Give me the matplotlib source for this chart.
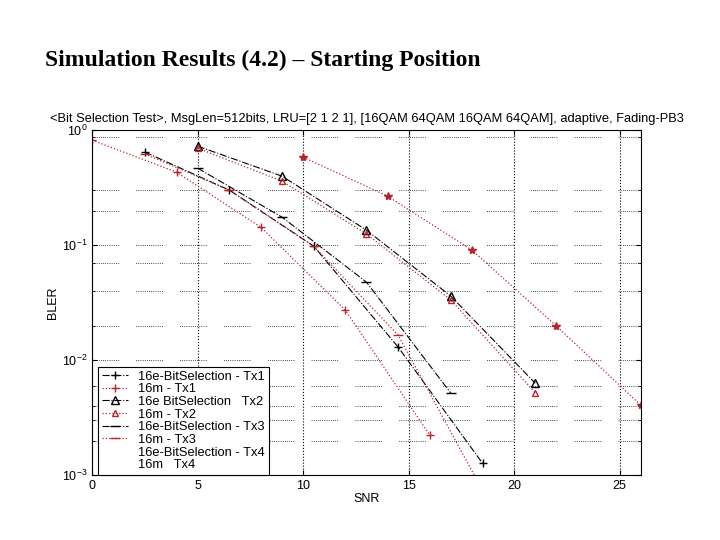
import numpy as np
import matplotlib
matplotlib.use('Agg')
import matplotlib.pyplot as plt
from matplotlib.lines import Line2D
from matplotlib.ticker import FixedLocator, NullFormatter

# Data (SNR in dB, BLER)
snr_e1 = [2.5, 6.5, 10.5, 14.5, 18.5]
bler_e1 = [0.644, 0.301, 0.098, 0.013, 0.00127]

snr_m1 = [0, 4, 8, 12, 16]
bler_m1 = [0.818, 0.431, 0.143, 0.0272, 0.00223]

snr_e2 = [5, 9, 13, 17, 21]
bler_e2 = [0.726, 0.398, 0.135, 0.036, 0.0063]

snr_m2 = [5, 9, 13, 17, 21]
bler_m2 = [0.697, 0.360, 0.125, 0.0333, 0.0052]

snr_e3 = [5, 9, 13, 17]
bler_e3 = [0.467, 0.175, 0.0477, 0.00516]

snr_m3 = [2.5, 6.5, 10.5, 14.5, 18.5]
bler_m3 = [0.62, 0.301, 0.098, 0.0165, 0.00074]

snr_m4 = [10, 14, 18, 22, 26]
bler_m4 = [0.582, 0.267, 0.0905, 0.0198, 0.00406]

legend_labels = ['16e-BitSelection - Tx1', '16m - Tx1', '16e BitSelection   Tx2',
                 '16m - Tx2', '16e-BitSelection - Tx3', '16m - Tx3',
                 '16e-BitSelection - Tx4', '16m   Tx4']

# minor grid rows that survive in the scanned slide
minor_rows = [0.87, 0.3, 0.2, 0.07, 0.04, 0.02, 0.006, 0.004, 0.003, 0.002]

plt.rcParams['font.family'] = ['Liberation Sans', 'DejaVu Sans']

fig = plt.figure(figsize=(7.2, 5.4), dpi=100)
fig.text(0.062, 0.889, 'Simulation Results (4.2) \u2013 Starting Position',
         fontsize=17, fontweight='bold', family='Liberation Serif', va='center')

ax = fig.add_axes([0.128, 0.120, 0.762, 0.639])
red = '#b8262c'
ax.semilogy(snr_e1, bler_e1, '-.', color='k', lw=0.8, marker='+', ms=6, label=legend_labels[0])
ax.semilogy(snr_m1, bler_m1, ':', color=red, lw=0.9, marker='+', ms=6, label=legend_labels[1])
ax.semilogy(snr_e2, bler_e2, '-.', color='k', lw=0.8, marker='^', mfc='none', ms=6, label=legend_labels[2])
ax.semilogy(snr_m2, bler_m2, ':', color=red, lw=0.9, marker='^', mfc='none', ms=5, label=legend_labels[3])
ax.semilogy(snr_e3, bler_e3, '-.', color='k', lw=0.8, marker='_', ms=7, label=legend_labels[4])
ax.semilogy(snr_m3, bler_m3, ':', color=red, lw=0.9, marker='_', ms=7, label=legend_labels[5])
ax.semilogy(snr_m4, bler_m4, ':', color=red, lw=0.9, marker='*', ms=6, label='_nolegend_')

handles, labels = ax.get_legend_handles_labels()
handles += [Line2D([], [], color='none'), Line2D([], [], color='none')]
labels += legend_labels[6:]

ax.set_xlim(0, 26)
ax.set_ylim(1e-3, 1)
ax.set_xticks([0, 5, 10, 15, 20, 25])
ax.yaxis.set_minor_locator(FixedLocator(minor_rows))
ax.yaxis.set_minor_formatter(NullFormatter())

dotted = (0, [0.7, 1.5] * 12 + [0.7, 18])
ax.grid(True, which='major', axis='x', linestyle=':', color='k', lw=0.8)
ax.grid(True, which='both', axis='y', linestyle=dotted, color='k', lw=0.7)
ax.tick_params(which='both', direction='in', labelsize=9, right=True, top=True)
ax.set_xlabel('SNR', fontsize=9, labelpad=1)
ax.set_ylabel('BLER', fontsize=9, labelpad=2)
ax.set_title('<Bit Selection Test>, MsgLen=512bits, LRU=[2 1 2 1], [16QAM 64QAM 16QAM 64QAM], adaptive, Fading-PB3',
             fontsize=9.3, pad=6)

leg = ax.legend(handles, labels, loc='lower left', bbox_to_anchor=(0.011, 0.0), fontsize=9.3,
                frameon=True, fancybox=False, edgecolor='k', framealpha=1, borderaxespad=0.0,
                labelspacing=0.05, handlelength=2.0, borderpad=0.3)
leg.get_frame().set_linewidth(0.8)

fig.savefig('out.png', dpi=100)
